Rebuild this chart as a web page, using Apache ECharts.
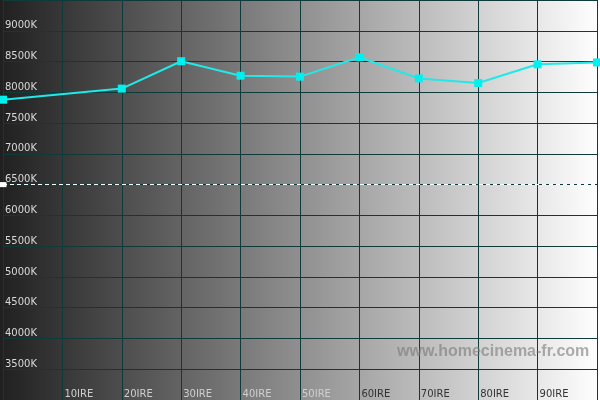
<!DOCTYPE html>
<html>
<head>
<meta charset="utf-8">
<script src="https://cdn.jsdelivr.net/npm/echarts@6/dist/echarts.min.js"></script>
<style>
html,body{margin:0;padding:0;background:#fff;}
#c{width:600px;height:400px;}
</style>
</head>
<body>
<div id="c"></div>
<script>
// Data
const ireValues = [0, 20, 30, 40, 50, 60, 70, 80, 90, 100];
const colorTempK = [7880, 8060, 8505, 8270, 8255, 8570, 8225, 8150, 8455, 8485];
const targetK = 6500;
const xTickLabels = ['10IRE','20IRE','30IRE','40IRE','50IRE','60IRE','70IRE','80IRE','90IRE'];
const yTickLabels = ['3500K','4000K','4500K','5000K','5500K','6000K','6500K','7000K','7500K','8000K','8500K','9000K'];
const watermark = 'www.homecinema-fr.com';

const chart = echarts.init(document.getElementById('c'), null, {renderer:'canvas'});
const gridColor = '#0f3a3a';
const font = 'DejaVu Sans';

const option = {
  animation: false,
  backgroundColor: new echarts.graphic.LinearGradient(0, 0, 1, 0, [
    {offset: 0, color: '#202020'},
    {offset: 1, color: '#ffffff'}
  ]),
  grid: {left: 0, top: -1, width: 600, height: 403, containLabel: false},
  xAxis: {
    type: 'value', min: 0, max: 100, interval: 10,
    axisLine: {show: false}, axisTick: {show: false},
    splitLine: {show: true, lineStyle: {color: gridColor, width: 1}},
    axisLabel: {
      inside: true, margin: 1, align: 'left', verticalAlign: 'bottom',
      fontFamily: font, fontSize: 10,
      formatter: function (v) {
        const lbl = v + 'IRE';
        if (xTickLabels.indexOf(lbl) < 0) return '';
        return v <= 50 ? '{l|' + lbl + '}' : '{d|' + lbl + '}';
      },
      rich: {
        l: {color: '#cfcfcf', fontFamily: font, fontSize: 10, padding: [0,0,0,2]},
        d: {color: '#333333', fontFamily: font, fontSize: 10, padding: [0,0,0,2]}
      }
    }
  },
  yAxis: {
    type: 'value', min: 3000, max: 9500, interval: 500,
    axisLine: {show: false}, axisTick: {show: false},
    splitLine: {show: true, lineStyle: {color: gridColor, width: 1}},
    axisLabel: {
      inside: true, margin: 2, align: 'left', verticalAlign: 'bottom',
      color: '#d8d8d8', fontFamily: font, fontSize: 10, padding: [0,0,0,0],
      formatter: function (v) {
        const lbl = v + 'K';
        return yTickLabels.indexOf(lbl) >= 0 ? lbl : '';
      }
    }
  },
  series: [{
    type: 'line',
    data: ireValues.map((x, i) => [x, colorTempK[i]]),
    lineStyle: {color: '#22e8e8', width: 2},
    itemStyle: {color: '#00f0f0'},
    symbol: 'rect', symbolSize: 8, showAllSymbol: true,
    clip: false,
    z: 5,
    markLine: {
      silent: true, symbol: ['rect', 'none'], symbolSize: [5, 7],
      label: {show: false},
      lineStyle: {color: '#ffffff', type: [4, 3], width: 1},
      itemStyle: {color: '#ffffff'},
      data: [{yAxis: targetK}]
    }
  }],
  graphic: [{
    type: 'text', left: 397, top: 344, z: 100,
    style: {
      text: watermark, fill: 'rgba(120,120,120,0.6)',
      font: 'bold 16px "Liberation Sans", Arial, sans-serif'
    }
  }]
};
chart.setOption(option);
</script>
</body>
</html>
